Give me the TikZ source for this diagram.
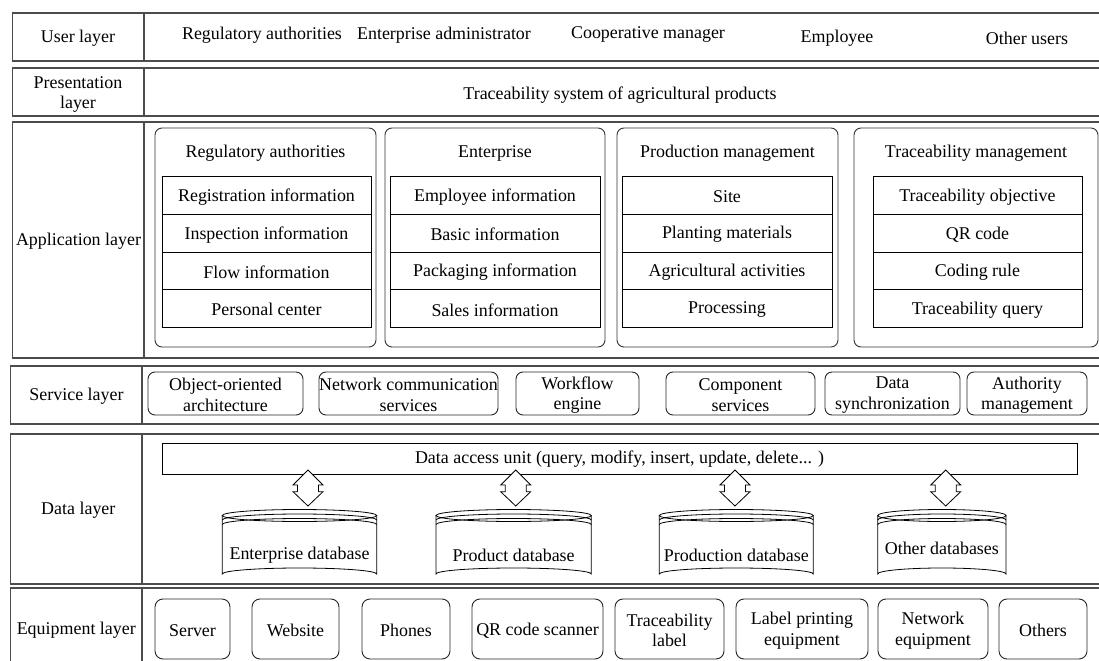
\documentclass[tikz,border=0pt]{standalone}
\usepackage{fontspec}
\setmainfont{Liberation Serif}
\begin{document}
\begin{tikzpicture}[x=1bp,y=-1bp,
  every node/.style={font=\fontsize{18}{20.5}\selectfont, inner sep=0pt, align=center, yshift=-1.5bp},
  layerline/.style={draw=black!70, line width=1.1bp},
  modbox/.style={draw=black!80, line width=0.9bp, rounded corners=7bp},
  rowbox/.style={draw=black, line width=0.8bp},
  svcbox/.style={draw=black!85, line width=0.9bp, rounded corners=7bp},
  eqbox/.style={draw=black!85, line width=0.9bp, rounded corners=8bp},
  dbline/.style={draw=black, line width=0.8bp},
  arrowshape/.style={draw=black, line width=0.8bp, fill=white}]
\useasboundingbox (0,0) rectangle (1099,661);
\clip (0,0) rectangle (1099,661);

% ---------- layer frames ----------
\draw[layerline] (12.5,13) rectangle (1115,61);
\draw[layerline] (144,13) -- (144,61);
\draw[layerline] (12.5,68) rectangle (1115,116);
\draw[layerline] (144,68) -- (144,116);
\draw[layerline] (12.5,122) rectangle (1115,358);
\draw[layerline] (144,122) -- (144,358);
\draw[layerline] (10.5,366) rectangle (1115,424);
\draw[layerline] (142,366) -- (142,424);
\draw[layerline] (10.5,434) rectangle (1115,584);
\draw[layerline] (142,434) -- (142,584);
\draw[layerline] (10.5,588) rectangle (1115,720);
\draw[layerline] (142,588) -- (142,720);

% ---------- layer labels ----------
\node (lUser) at (78,37) {User layer};
\node (lPres) at (78,93) {Presentation\\layer};
\node (lApp) at (78.5,240) {Application layer};
\node (lSvc) at (76.5,395) {Service layer};
\node (lData) at (78.3,509) {Data layer};
\node (lEq) at (76.3,629) {Equipment layer};

% ---------- user layer ----------
\node (u1) at (262,34) {Regulatory authorities};
\node (u2) at (444,34) {Enterprise administrator};
\node (u3) at (648,33) {Cooperative manager};
\node (u4) at (837,37) {Employee};
\node (u5) at (1027,37) {Other users};

% ---------- presentation layer ----------
\node (pres) at (620,94) {Traceability system of agricultural products};

% ---------- application layer ----------
\foreach \id/\ox/\oX/\ix/\iX/\title/\ra/\rb/\rc/\rd in {
  m1/155/376/162/371/{Regulatory authorities}/{Registration information}/{Inspection information}/{Flow information}/{Personal center},
  m2/385/605/390/600/{Enterprise}/{Employee information}/{Basic information}/{Packaging information}/{Sales information},
  m3/617/838/622/832/{Production management}/{Site}/{Planting materials}/{Agricultural activities}/{Processing},
  m4/854/1098/873/1082/{Traceability management}/{Traceability objective}/{QR code}/{Coding rule}/{Traceability query}}{
  \draw[modbox] (\ox,128) rectangle (\oX,347);
  \node (\id t) at ({(\ox+\oX)/2},152) {\title};
  \foreach \k/\txt in {0/\ra,1/\rb,2/\rc,3/\rd}{
    \draw[rowbox] (\ix,{176.7+37.6*\k}) rectangle (\iX,{176.7+37.6*(\k+1)});
    \node (\id r\k) at ({(\ix+\iX)/2},{176.7+37.6*(\k+0.5)}) {\txt};
  }
}

% ---------- service layer ----------
\foreach \id/\a/\b/\txt in {
  s1/148/303/{Object-oriented\\architecture},
  s2/319/498/{Network communication\\services},
  s3/516/639/{Workflow\\engine},
  s4/666/815/{Component\\services},
  s5/825/960/{Data\\synchronization},
  s6/967/1087/{Authority\\management}}{
  \draw[svcbox] (\a,372) rectangle (\b,415);
  \node (\id) at ({(\a+\b)/2},393.5) {\txt};
}

% ---------- data layer ----------
\draw[rowbox] (162,443) rectangle (1077,474);
\node (dau) at (619.5,458) {Data access unit (query, modify, insert, update, delete... )};

\foreach \cx in {308,515.7,735,945.7}{
  \draw[arrowshape] (\cx,470) -- ++(15,15) -- ++(-4.5,0) -- ++(0,6.7) -- ++(4.5,0)
     -- ++(-15,14.3) -- ++(-15,-14.3) -- ++(4.5,0) -- ++(0,-6.7) -- ++(-4.5,0) -- cycle;
}

\foreach \id/\a/\b/\ty/\txt in {
  db1/222.3/376.7/554/{Enterprise database},
  db2/436/591.3/554/{Product database},
  db3/659.3/813.3/554/{Production database},
  db4/877.7/1006/547/{Other databases}}{
  \pgfmathsetmacro{\cx}{(\a+\b)/2}
  \pgfmathsetmacro{\rx}{(\b-\a)/2}
  \draw[dbline, fill=white] (\a,515.5) -- (\a,574) arc[start angle=180, end angle=360, x radius=\rx, y radius=6] -- (\b,515.5);
  \draw[dbline, fill=white] (\cx,515.5) ellipse [x radius=\rx, y radius=6];
  \draw[dbline] (\a,520) arc[start angle=180, end angle=360, x radius=\rx, y radius=6];
  \draw[dbline] (\a,524.5) arc[start angle=180, end angle=360, x radius=\rx, y radius=6];
  \node (\id) at (\cx,\ty) {\txt};
}

% ---------- equipment layer ----------
\foreach \id/\a/\b/\txt in {
  e1/155/230/{Server},
  e2/252/339/{Website},
  e3/362/450/{Phones},
  e4/472/603/{QR code scanner},
  e5/615/724/{Traceability\\label},
  e6/736/868/{Label printing\\equipment},
  e7/878/988/{Network\\equipment},
  e8/999/1087/{Others}}{
  \draw[eqbox] (\a,599) rectangle (\b,659);
  \node (\id) at ({(\a+\b)/2},629) {\txt};
}
\end{tikzpicture}
\end{document}
